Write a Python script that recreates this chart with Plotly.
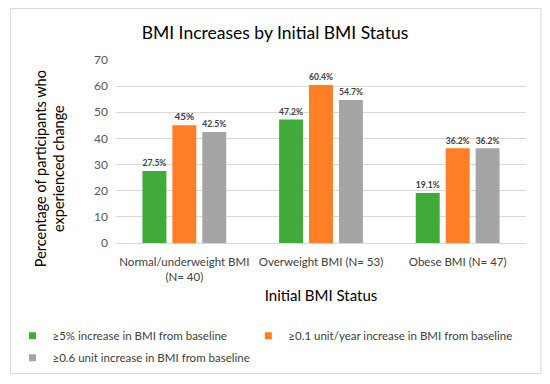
import plotly.graph_objects as go

categories = ["Normal/underweight BMI<br>(N= 40)", "Overweight BMI (N= 53)", "Obese BMI (N= 47)"]
series_names = [
    "≥5% increase in BMI from baseline",
    "≥0.1 unit/year increase in BMI from baseline",
    "≥0.6 unit increase in BMI from baseline",
]
pct_5 = [27.5, 47.2, 19.1]
unit_per_year = [45, 60.4, 36.2]
unit_06 = [42.5, 54.7, 36.2]
y_ticks = [0, 10, 20, 30, 40, 50, 60, 70]

colors = ["#41AB3A", "#FF7F27", "#A5A5A5"]
legend_ids = ["legend", "legend2", "legend"]
FONT = "Lato"

fig = go.Figure()
for name, vals, col, lg in zip(series_names, [pct_5, unit_per_year, unit_06], colors, legend_ids):
    fig.add_trace(go.Bar(
        x=categories, y=vals, name=name, marker_color=col, marker_line_width=0,
        texttemplate="<b>%{y}%</b>", textposition="outside", cliponaxis=False,
        textfont=dict(family=FONT, size=10, color="#404040"),
        showlegend=False, legendgroup=name,
    ))
    # legend entry with a small square swatch
    fig.add_trace(go.Scatter(
        x=[None], y=[None], mode="markers", name=name, legendgroup=name, legend=lg,
        marker=dict(symbol="square", size=7, color=col),
    ))

W, H = 550, 384
L, R, T, B = 114, 24, 60, 139
pw, ph = W - L - R, H - T - B

def px(x):
    return (x - L) / pw

def py(y):
    return (H - B - y) / ph

legend_common = dict(orientation="v", xanchor="left", yanchor="top",
                     font=dict(size=11.5, color="#404040"), itemwidth=30,
                     tracegroupgap=3, traceorder="grouped", bgcolor="rgba(0,0,0,0)")

fig.update_layout(
    width=W, height=H,
    margin=dict(l=L, r=R, t=T, b=B, pad=0),
    paper_bgcolor="white", plot_bgcolor="white",
    barmode="group", bargap=0.343, bargroupgap=0.2,
    font=dict(family=FONT, color="#595959"),
    title=dict(text="BMI Increases by Initial BMI Status", x=0.5, xanchor="center",
               y=1 - 33 / H, yanchor="middle",
               font=dict(family=FONT, size=17.5, color="#000000")),
    xaxis=dict(showgrid=False, showline=True, linecolor="#D9D9D9", linewidth=1,
               tickfont=dict(size=11.5, color="#404040"), ticks="", ticklabelstandoff=8,
               title=dict(text="Initial BMI Status", font=dict(size=15, color="#000000"), standoff=8)),
    yaxis=dict(range=[0, 70], tickvals=y_ticks, showgrid=True, gridcolor="#D9D9D9", gridwidth=1,
               zeroline=False, showline=False, ticks="", ticklabelstandoff=7,
               tickfont=dict(size=12, color="#595959")),
    showlegend=True,
    legend=dict(x=px(10), y=py(324), **legend_common),
    legend2=dict(x=px(247), y=py(324), **legend_common),
    annotations=[
        dict(text="Percentage of participants who<br>experienced change", textangle=-90,
             x=px(47), y=py(170), xref="paper", yref="paper", showarrow=False,
             font=dict(size=14.5, color="#000000"), xanchor="center", yanchor="middle"),
    ],
    shapes=[
        dict(type="rect", xref="paper", yref="paper", x0=px(8), x1=px(541), y0=py(8), y1=py(377),
             line=dict(color="#D9D9D9", width=1), fillcolor="rgba(0,0,0,0)", layer="above"),
    ],
)

fig.write_html("out.html", config={"displayModeBar": False},
               post_script="document.body.style.margin='0px';")
